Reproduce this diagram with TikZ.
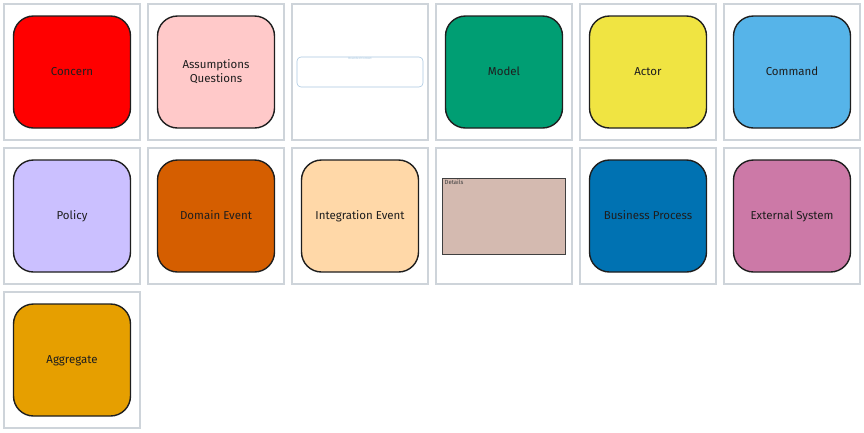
\documentclass[tikz,border=0pt]{standalone}
\usepackage{fontspec}
\setmainfont{Fira Sans}
\usetikzlibrary{positioning}
\definecolor{cellgray}{HTML}{CED4DA}
\definecolor{ink}{HTML}{1E1E1E}
\definecolor{concern}{HTML}{FF0000}
\definecolor{assumption}{HTML}{FFC9C9}
\definecolor{model}{HTML}{009E73}
\definecolor{actor}{HTML}{F0E442}
\definecolor{command}{HTML}{56B4E9}
\definecolor{policy}{HTML}{CBC0FF}
\definecolor{domainevent}{HTML}{D55E00}
\definecolor{integrationevent}{HTML}{FFD8A8}
\definecolor{details}{HTML}{D4BAB0}
\definecolor{process}{HTML}{0072B2}
\definecolor{external}{HTML}{CC79A7}
\definecolor{aggregate}{HTML}{E69F00}
\definecolor{frameblue}{HTML}{A9C7E0}

\tikzset{
  cell/.style={draw=cellgray,line width=1.3pt,minimum size=136pt,inner sep=0pt,outer sep=0pt},
  card/.style={draw=ink,line width=1.4pt,rounded corners=20pt,minimum width=117pt,
    minimum height=112pt,text=ink,align=center,text depth=0.3ex,
    font=\fontsize{11.5}{14}\selectfont},
}

\begin{document}
\begin{tikzpicture}[x=1pt,y=-1pt,node distance=8pt]
\useasboundingbox (0,0) rectangle (864,432);
% grid of cells
\node[cell] (c11) at (72,72) {};
\node[cell,right=of c11] (c12) {};
\node[cell,right=of c12] (c13) {};
\node[cell,right=of c13] (c14) {};
\node[cell,right=of c14] (c15) {};
\node[cell,right=of c15] (c16) {};
\node[cell,below=of c11] (c21) {};
\node[cell,right=of c21] (c22) {};
\node[cell,right=of c22] (c23) {};
\node[cell,right=of c23] (c24) {};
\node[cell,right=of c24] (c25) {};
\node[cell,right=of c25] (c26) {};
\node[cell,below=of c21] (c31) {};
% sticky notes
\node[card,fill=concern] (concern) at (c11) {Concern};
\node[card,fill=assumption] (assumptions) at (c12) {Assumptions\\Questions};
\node[card,fill=model] (model) at (c14) {Model};
\node[card,fill=actor] (actor) at (c15) {Actor};
\node[card,fill=command] (command) at (c16) {Command};
\node[card,fill=policy] (policy) at (c21) {Policy};
\node[card,fill=domainevent] (domain event) at (c22) {Domain Event};
\node[card,fill=integrationevent] (integration event) at (c23) {Integration Event};
\node[card,fill=process] (business process) at (c25) {Business Process};
\node[card,fill=external] (external system) at (c26) {External System};
\node[card,fill=aggregate] (aggregate) at (c31) {Aggregate};
% frame and details box
\node[draw=frameblue,line width=0.6pt,rounded corners=4pt,minimum width=126pt,
  minimum height=30pt,inner sep=0pt] (context) at (c13) {};
\node[below=0.6pt of context.north,inner sep=0pt,text=frameblue,
  font=\fontsize{3}{3}\selectfont] (context label) {Bounded Context};
\node[draw=ink!85,line width=1pt,fill=details,minimum width=123pt,minimum height=76pt,
  inner sep=0pt] (details) at (c24) {};
\node[below right=2.5pt and 2.5pt of details.north west,inner sep=0pt,text=ink!85,
  font=\fontsize{6}{6}\selectfont] (details label) {Details};
\end{tikzpicture}
\end{document}
